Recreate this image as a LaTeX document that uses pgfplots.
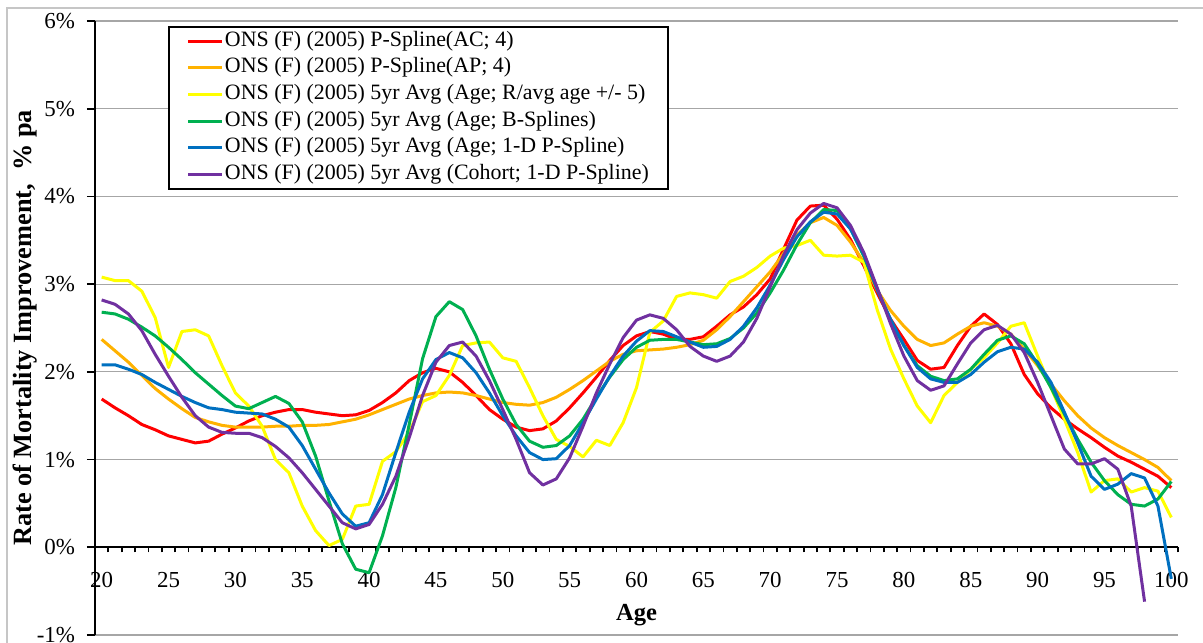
\documentclass[border=0pt]{standalone}
\usepackage{pgfplots}
\usepackage{pgfplotstable}
\pgfplotsset{compat=1.18}
\usepackage{fontspec}
\setmainfont{Liberation Serif}

\definecolor{sred}{RGB}{255,0,0}
\definecolor{sorange}{RGB}{255,178,0}
\definecolor{syellow}{RGB}{255,255,0}
\definecolor{sgreen}{RGB}{0,176,80}
\definecolor{sblue}{RGB}{0,112,192}
\definecolor{spurple}{RGB}{112,48,160}

% rate of mortality improvement, % pa, by age
\pgfplotstableread{
age  ac    ap    ravg  bspl  pspl  coh
20   1.69  2.37  3.08  2.68  2.08  2.82
21   1.59  2.24  3.04  2.66  2.08  2.77
22   1.50  2.11  3.04  2.60  2.03  2.66
23   1.40  1.96  2.92  2.51  1.97  2.47
24   1.34  1.81  2.62  2.41  1.88  2.20
25   1.27  1.69  2.05  2.28  1.80  1.95
26   1.23  1.58  2.46  2.14  1.72  1.71
27   1.19  1.48  2.48  1.99  1.65  1.50
28   1.21  1.43  2.41  1.86  1.59  1.37
29   1.29  1.39  2.07  1.73  1.57  1.31
30   1.36  1.37  1.76  1.61  1.54  1.30
31   1.44  1.37  1.61  1.58  1.53  1.30
32   1.50  1.37  1.38  1.65  1.52  1.25
33   1.54  1.38  1.00  1.72  1.46  1.15
34   1.57  1.38  0.85  1.64  1.37  1.02
35   1.57  1.39  0.47  1.43  1.16  0.85
36   1.54  1.39  0.19  1.04  0.89  0.66
37   1.52  1.40  0.02  0.53  0.62  0.47
38   1.50  1.43  0.09  0.04  0.38  0.28
39   1.51  1.46  0.47  -0.25 0.24  0.21
40   1.56  1.51  0.49  -0.29 0.28  0.26
41   1.65  1.57  0.98  0.13  0.60  0.49
42   1.76  1.63  1.09  0.68  1.08  0.81
43   1.90  1.69  1.31  1.40  1.54  1.25
44   1.99  1.73  1.66  2.15  1.92  1.73
45   2.04  1.76  1.73  2.63  2.14  2.11
46   2.00  1.77  1.96  2.80  2.22  2.30
47   1.88  1.76  2.30  2.71  2.16  2.34
48   1.73  1.73  2.33  2.41  1.99  2.18
49   1.57  1.69  2.34  2.03  1.76  1.90
50   1.46  1.65  2.16  1.69  1.50  1.57
51   1.37  1.63  2.12  1.40  1.27  1.23
52   1.33  1.62  1.82  1.21  1.08  0.85
53   1.35  1.65  1.50  1.14  1.00  0.71
54   1.44  1.71  1.23  1.16  1.01  0.78
55   1.59  1.80  1.15  1.27  1.16  1.02
56   1.76  1.90  1.03  1.46  1.42  1.38
57   1.94  2.01  1.22  1.71  1.69  1.76
58   2.13  2.12  1.16  1.94  1.95  2.09
59   2.30  2.20  1.42  2.14  2.18  2.39
60   2.41  2.24  1.82  2.28  2.35  2.59
61   2.46  2.25  2.45  2.36  2.47  2.65
62   2.43  2.26  2.58  2.37  2.46  2.61
63   2.37  2.28  2.86  2.37  2.40  2.48
64   2.37  2.31  2.90  2.34  2.34  2.29
65   2.40  2.36  2.88  2.31  2.28  2.18
66   2.52  2.48  2.84  2.32  2.29  2.12
67   2.65  2.63  3.03  2.38  2.37  2.18
68   2.74  2.80  3.09  2.50  2.52  2.34
69   2.88  2.97  3.19  2.67  2.73  2.61
70   3.06  3.14  3.32  2.90  2.99  2.97
71   3.40  3.35  3.41  3.16  3.28  3.33
72   3.73  3.56  3.44  3.45  3.54  3.62
73   3.89  3.70  3.50  3.70  3.71  3.81
74   3.90  3.76  3.33  3.85  3.82  3.92
75   3.74  3.67  3.32  3.84  3.80  3.87
76   3.51  3.48  3.33  3.63  3.63  3.67
77   3.21  3.25  3.25  3.32  3.34  3.36
78   2.90  2.93  2.71  2.94  2.94  2.96
79   2.60  2.70  2.26  2.58  2.60  2.55
80   2.37  2.52  1.92  2.30  2.30  2.18
81   2.13  2.37  1.61  2.07  2.05  1.90
82   2.03  2.30  1.42  1.95  1.92  1.79
83   2.05  2.33  1.73  1.90  1.88  1.84
84   2.30  2.43  1.88  1.92  1.88  2.09
85   2.52  2.52  2.03  2.03  1.97  2.33
86   2.66  2.56  2.16  2.20  2.11  2.48
87   2.54  2.52  2.33  2.36  2.23  2.53
88   2.32  2.43  2.52  2.41  2.28  2.43
89   1.97  2.26  2.56  2.32  2.26  2.22
90   1.75  2.07  2.18  2.09  2.11  1.88
91   1.59  1.86  1.82  1.82  1.88  1.50
92   1.46  1.67  1.46  1.52  1.54  1.12
93   1.35  1.50  1.08  1.23  1.19  0.95
94   1.25  1.36  0.63  0.97  0.81  0.95
95   1.14  1.25  0.76  0.76  0.66  1.01
96   1.04  1.16  0.78  0.60  0.72  0.89
97   0.97  1.08  0.63  0.49  0.84  0.47
98   0.89  1.00  0.68  0.47  0.79  -0.62
99   0.81  0.91  0.64  0.55  0.47  nan
100  0.68  0.76  0.34  0.75  -0.36 nan
}\data

\begin{document}
\begin{tikzpicture}
\path[use as bounding box] (-47.5bp,-4bp) rectangle (554bp,317.5bp);
\draw[gray!45, line width=0.8bp] (-44bp,-4bp) -- (-44bp,313.5bp) -- (554bp,313.5bp);
\begin{axis}[
  at={(0,0)}, anchor=south west,
  scale only axis,
  width=541.5bp, height=307bp,
  xmin=19.5, xmax=100.5,
  ymin=-1, ymax=6,
  axis x line=middle,
  axis y line=left,
  axis line style={-, black, line width=1bp},
  hide obscured x ticks=false,
  hide obscured y ticks=false,
  tick align=outside,
  xtick={20,25,...,100},
  xticklabels={20,25,30,35,40,45,50,55,60,65,70,75,80,85,90,95,100},
  minor xtick={19.5,20.5,...,100.5},
  major x tick style={draw=none},
  minor x tick style={black, line width=0.9bp},
  minor tick length=2.6bp,
  ytick={-1,0,...,6},
  yticklabels={-1\%,0\%,1\%,2\%,3\%,4\%,5\%,6\%},
  major tick length=4bp,
  y tick style={black, line width=0.9bp},
  ymajorgrids,
  grid style={gray!70, line width=0.6bp},
  ticklabel style={font=\fontsize{11.5}{13}\selectfont},
  xticklabel style={yshift=-5bp},
  yticklabel style={xshift=-2.5bp},
  xlabel={Age},
  ylabel={Rate of Mortality Improvement,\ \ \% pa},
  every axis x label/.style={at={(axis description cs:0.5,0.033)}, anchor=center,
    font=\fontsize{12.3}{14}\selectfont\bfseries},
  every axis y label/.style={at={(axis description cs:-0.0646,0.5)}, anchor=center, rotate=90,
    font=\fontsize{13.2}{15}\selectfont\bfseries},
  legend cell align=left,
  legend style={at={(axis description cs:0.0674,0.992)}, anchor=north west,
    draw=black, line width=1bp, fill=white,
    font=\fontsize{11}{12}\selectfont,
    inner xsep=9bp, inner ysep=0.5bp,
    nodes={inner xsep=0.5bp, inner ysep=1.65bp, text height=7.5bp, text depth=2.5bp}},
  legend image code/.code={\draw[#1] (0bp,0bp) -- (17bp,0bp);},
  every axis plot/.append style={line width=1.5bp, line join=round},
]
\addplot[sred] table[x=age, y=ac] {\data};
\addlegendentry{ONS (F) (2005) P-Spline(AC; 4)}
\addplot[sorange] table[x=age, y=ap] {\data};
\addlegendentry{ONS (F) (2005) P-Spline(AP; 4)}
\addplot[syellow] table[x=age, y=ravg] {\data};
\addlegendentry{ONS (F) (2005) 5yr Avg (Age; R/avg age +/- 5)}
\addplot[sgreen] table[x=age, y=bspl] {\data};
\addlegendentry{ONS (F) (2005) 5yr Avg (Age; B-Splines)}
\addplot[sblue] table[x=age, y=pspl] {\data};
\addlegendentry{ONS (F) (2005) 5yr Avg (Age; 1-D P-Spline)}
\addplot[spurple] table[x=age, y=coh] {\data};
\addlegendentry{ONS (F) (2005) 5yr Avg (Cohort; 1-D P-Spline)}
\end{axis}
\end{tikzpicture}
\end{document}
